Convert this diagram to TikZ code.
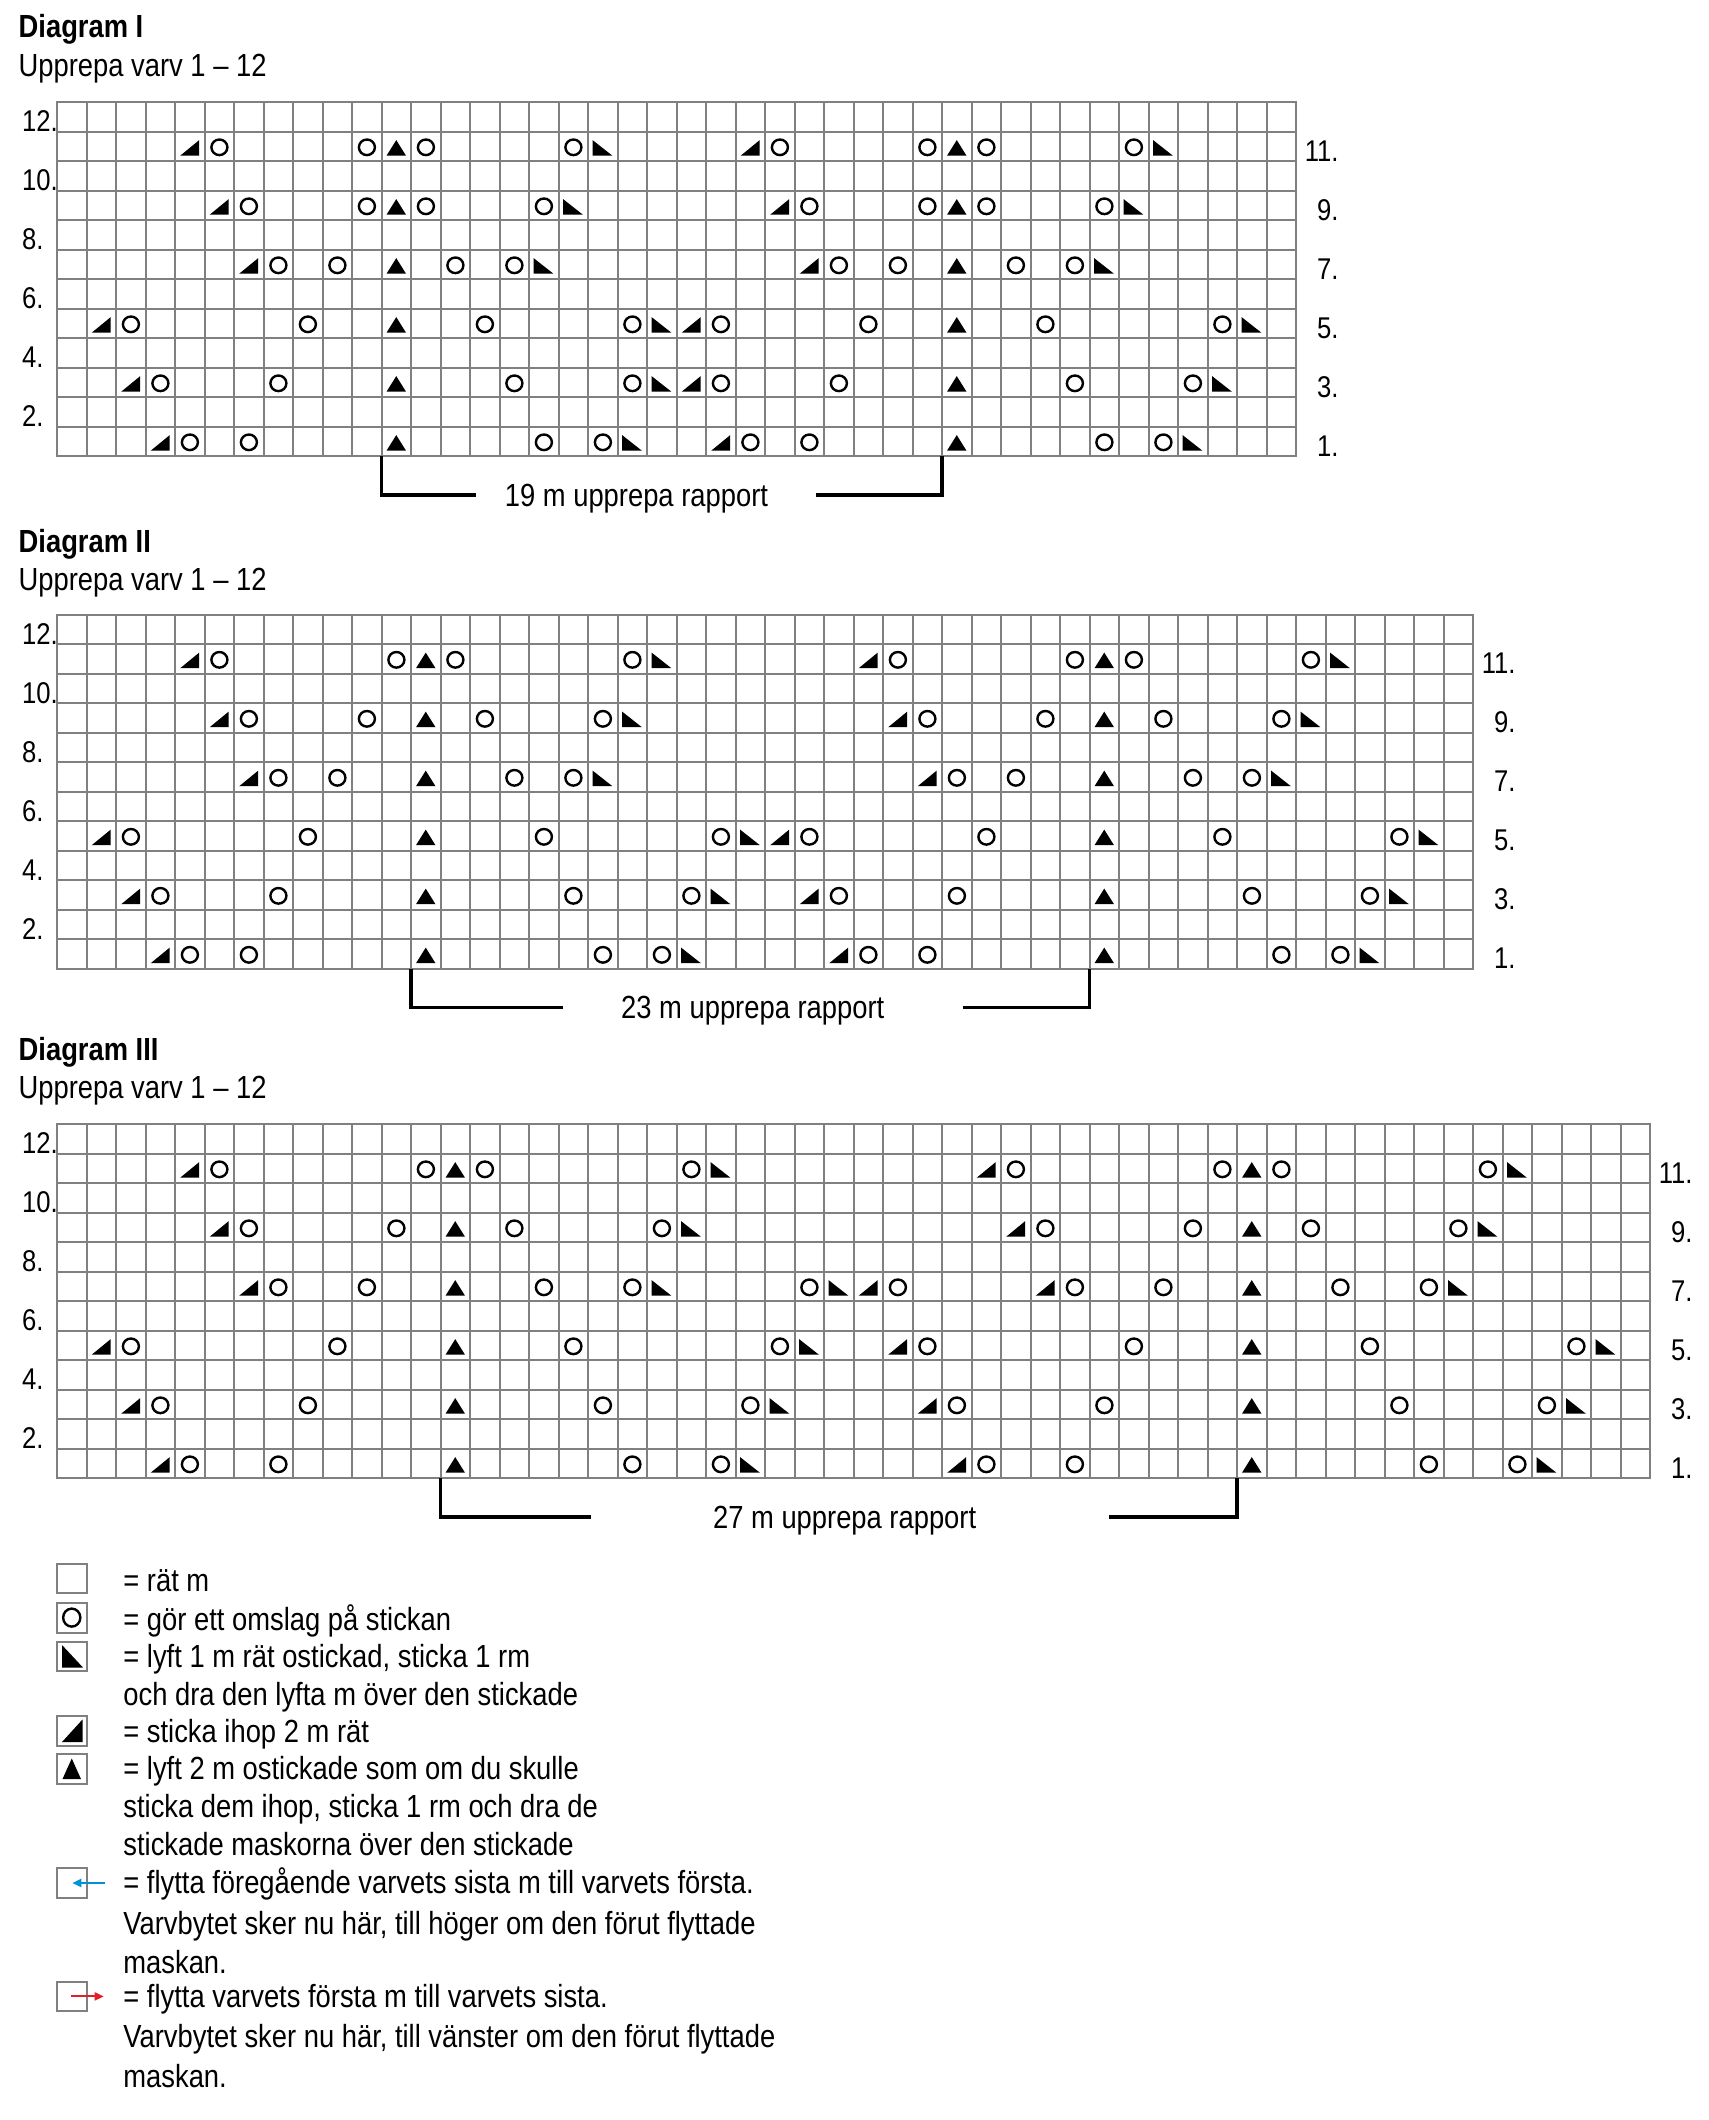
\documentclass[tikz,border=0pt]{standalone}
\usepackage{fontspec}
\setmainfont{Liberation Sans}[FakeStretch=0.855]
\usetikzlibrary{arrows.meta}
\definecolor{gridgray}{RGB}{128,128,128}
\definecolor{arrowblue}{RGB}{0,146,214}
\definecolor{arrowred}{RGB}{228,30,38}
\tikzset{
  gridl/.style={draw=gridgray, line width=1pt, line cap=rect},
  yo/.style={draw=black, line width=1.2pt},
  dec/.style={fill=black},
  bracketl/.style={draw=black, line width=1.6pt},
  txt/.style={inner sep=0pt, anchor=base west, font=\fontsize{16}{19}\selectfont},
  hdr/.style={inner sep=0pt, anchor=base west, font=\fontsize{16}{19}\selectfont\bfseries},
  lblL/.style={inner sep=0pt, anchor=base west, font=\fontsize{15}{18}\selectfont},
  lblR/.style={inner sep=0pt, anchor=base east, font=\fontsize{15}{18}\selectfont},
  arrblue/.style={draw=arrowblue, line width=1pt, -{Triangle[length=4.5pt,width=4pt]}},
  arrred/.style={draw=arrowred, line width=1pt, -{Triangle[length=4.5pt,width=4pt]}},
}
% chart symbols, #1 = cell left, #2 = cell top (px, y downward)
\newcommand\symO[2]{\draw[yo] ({#1+14.9},{#2+15.8}) ellipse [x radius=4.0pt, y radius=3.9pt];}
\newcommand\symR[2]{\fill[dec] ({#1+5.2},{#2+24.2}) -- ({#1+24.2},{#2+24.2}) -- ({#1+24.2},{#2+8.6}) -- cycle;}
\newcommand\symL[2]{\fill[dec] ({#1+4.6},{#2+8.6}) -- ({#1+4.6},{#2+24.2}) -- ({#1+24.4},{#2+24.2}) -- cycle;}
\newcommand\symA[2]{\fill[dec] ({#1+5.0},{#2+24.2}) -- ({#1+24.5},{#2+24.2}) -- ({#1+14.75},{#2+8.6}) -- cycle;}
% grid: #1 ncols, #2 x0, #3 ytop
\newcommand\chartgrid[3]{%
  \pgfmathsetmacro\xR{#2+#1*29.5}%
  \pgfmathsetmacro\yB{#3+12*29.5}%
  \foreach \i in {0,...,#1}{\draw[gridl] ({#2+\i*29.5},#3) -- ({#2+\i*29.5},\yB);}
  \foreach \j in {0,...,12}{\draw[gridl] (#2,{#3+\j*29.5}) -- (\xR,{#3+\j*29.5});}
}
% symbols in a row: #1 x0, #2 ytop, #3 row, #4 list col/type
\newcommand\chartrow[4]{%
  \foreach \mycol/\mytyp in {#4}{%
    \pgfmathsetmacro\cL{#1+(\mycol-1)*29.5}%
    \pgfmathsetmacro\cT{#2+(12-#3)*29.5}%
    \csname sym\mytyp\endcsname{\cL}{\cT}%
  }%
}
% row labels: #1 prefix, #2 ytop, #3 x of right labels
\newcommand\rowlabels[3]{%
  \foreach \r in {12,10,...,2}{\node[lblL] (#1L\r) at (21.7,{#2+(13-\r)*29.5}) {\r.};}
  \foreach \r in {11,9,...,1}{\node[lblR] (#1R\r) at (#3,{#2+(13-\r)*29.5}) {\r.};}
}
\begin{document}
\begin{tikzpicture}[x=0.5pt,y=-0.5pt]
\useasboundingbox[fill=white] (0,0) rectangle (1708,2120);

%%%%%%%%%%%%%%%% Diagram I
\node[hdr] (h1) at (18.3,37) {Diagram I};
\node[txt] (s1) at (18.3,76.5) {Upprepa varv 1 – 12};
\chartgrid{42}{57}{102}
\chartrow{57}{102}{11}{5/R,6/O,11/O,12/A,13/O,18/O,19/L,24/R,25/O,30/O,31/A,32/O,37/O,38/L}
\chartrow{57}{102}{9}{6/R,7/O,11/O,12/A,13/O,17/O,18/L,25/R,26/O,30/O,31/A,32/O,36/O,37/L}
\chartrow{57}{102}{7}{7/R,8/O,10/O,12/A,14/O,16/O,17/L,26/R,27/O,29/O,31/A,33/O,35/O,36/L}
\chartrow{57}{102}{5}{2/R,3/O,9/O,12/A,15/O,20/O,21/L,22/R,23/O,28/O,31/A,34/O,40/O,41/L}
\chartrow{57}{102}{3}{3/R,4/O,8/O,12/A,16/O,20/O,21/L,22/R,23/O,27/O,31/A,35/O,39/O,40/L}
\chartrow{57}{102}{1}{4/R,5/O,7/O,12/A,17/O,19/O,20/L,23/R,24/O,26/O,31/A,36/O,38/O,39/L}
\rowlabels{a}{102}{1339}
\draw[bracketl] (381.5,456) -- (381.5,495) -- (476,495);
\draw[bracketl] (815.5,495) -- (942,495) -- (942,456);
\node[txt] (r1) at (504.5,506) {19 m upprepa rapport};

%%%%%%%%%%%%%%%% Diagram II
\node[hdr] (h2) at (18.3,552) {Diagram II};
\node[txt] (s2) at (18.3,590) {Upprepa varv 1 – 12};
\chartgrid{48}{57}{614.5}
\chartrow{57}{614.5}{11}{5/R,6/O,12/O,13/A,14/O,20/O,21/L,28/R,29/O,35/O,36/A,37/O,43/O,44/L}
\chartrow{57}{614.5}{9}{6/R,7/O,11/O,13/A,15/O,19/O,20/L,29/R,30/O,34/O,36/A,38/O,42/O,43/L}
\chartrow{57}{614.5}{7}{7/R,8/O,10/O,13/A,16/O,18/O,19/L,30/R,31/O,33/O,36/A,39/O,41/O,42/L}
\chartrow{57}{614.5}{5}{2/R,3/O,9/O,13/A,17/O,23/O,24/L,25/R,26/O,32/O,36/A,40/O,46/O,47/L}
\chartrow{57}{614.5}{3}{3/R,4/O,8/O,13/A,18/O,22/O,23/L,26/R,27/O,31/O,36/A,41/O,45/O,46/L}
\chartrow{57}{614.5}{1}{4/R,5/O,7/O,13/A,19/O,21/O,22/L,27/R,28/O,30/O,36/A,42/O,44/O,45/L}
\rowlabels{b}{614.5}{1516}
\draw[bracketl] (411,968.5) -- (411,1007.5) -- (562.6,1007.5);
\draw[bracketl] (963,1007.5) -- (1089.5,1007.5) -- (1089.5,968.5);
\node[txt] (r2) at (620.8,1018.5) {23 m upprepa rapport};

%%%%%%%%%%%%%%%% Diagram III
\node[hdr] (h3) at (18.3,1060.5) {Diagram III};
\node[txt] (s3) at (18.3,1098.7) {Upprepa varv 1 – 12};
\chartgrid{54}{57}{1124}
\chartrow{57}{1124}{11}{5/R,6/O,13/O,14/A,15/O,22/O,23/L,32/R,33/O,40/O,41/A,42/O,49/O,50/L}
\chartrow{57}{1124}{9}{6/R,7/O,12/O,14/A,16/O,21/O,22/L,33/R,34/O,39/O,41/A,43/O,48/O,49/L}
\chartrow{57}{1124}{7}{7/R,8/O,11/O,14/A,17/O,20/O,21/L,26/O,27/L,28/R,29/O,34/R,35/O,38/O,41/A,44/O,47/O,48/L}
\chartrow{57}{1124}{5}{2/R,3/O,10/O,14/A,18/O,25/O,26/L,29/R,30/O,37/O,41/A,45/O,52/O,53/L}
\chartrow{57}{1124}{3}{3/R,4/O,9/O,14/A,19/O,24/O,25/L,30/R,31/O,36/O,41/A,46/O,51/O,52/L}
\chartrow{57}{1124}{1}{4/R,5/O,8/O,14/A,20/O,23/O,24/L,31/R,32/O,35/O,41/A,47/O,50/O,51/L}
\rowlabels{c}{1124}{1693}
\draw[bracketl] (440.5,1478) -- (440.5,1517) -- (591,1517);
\draw[bracketl] (1109,1517) -- (1237,1517) -- (1237,1478);
\node[txt] (r3) at (712.7,1528) {27 m upprepa rapport};

%%%%%%%%%%%%%%%% Legend
\draw[gridl] (57,1563.7) rectangle (86.5,1593.2);
\draw[gridl] (57,1603) rectangle (86.5,1632.5);
\draw[yo] (71.75,1617.6) ellipse [x radius=4.3pt, y radius=4.5pt];
\draw[gridl] (57,1641.7) rectangle (86.5,1671.2);
\fill[dec] (62,1645) -- (62,1667.5) -- (83,1667.5) -- cycle;
\draw[gridl] (57,1716) rectangle (86.5,1745.5);
\fill[dec] (62,1742) -- (82.5,1742) -- (82.5,1719.5) -- cycle;
\draw[gridl] (57,1754.3) rectangle (86.5,1783.8);
\fill[dec] (62.5,1779) -- (81,1779) -- (71.75,1758.5) -- cycle;
\draw[gridl] (57,1868.3) rectangle (86.5,1897.8);
\coordinate (ab1) at (104.7,1883);
\coordinate (ab2) at (72.3,1883);
\draw[arrblue] (ab1) -- (ab2);
\draw[gridl] (57,1981.6) rectangle (86.5,2011.1);
\coordinate (ar1) at (70.8,1996.4);
\coordinate (ar2) at (103.7,1996.4);
\draw[arrred] (ar1) -- (ar2);

\node[txt] (t1) at (123,1591) {= rät m};
\node[txt] (t2) at (123,1630) {= gör ett omslag på stickan};
\node[txt] (t3) at (123,1667.3) {= lyft 1 m rät ostickad, sticka 1 rm};
\node[txt] (t4) at (123,1705) {och dra den lyfta m över den stickade};
\node[txt] (t5) at (123,1742) {= sticka ihop 2 m rät};
\node[txt] (t6) at (123,1779.6) {= lyft 2 m ostickade som om du skulle};
\node[txt] (t7) at (123,1817.5) {sticka dem ihop, sticka 1 rm och dra de};
\node[txt] (t8) at (123,1855.3) {stickade maskorna över den stickade};
\node[txt] (t9) at (123,1893.5) {= flytta föregående varvets sista m till varvets första.};
\node[txt] (t10) at (123,1934) {Varvbytet sker nu här, till höger om den förut flyttade};
\node[txt] (t11) at (123,1973.5) {maskan.};
\node[txt] (t12) at (123,2007.5) {= flytta varvets första m till varvets sista.};
\node[txt] (t13) at (123,2047.7) {Varvbytet sker nu här, till vänster om den förut flyttade};
\node[txt] (t14) at (123,2087) {maskan.};
\end{tikzpicture}
\end{document}
